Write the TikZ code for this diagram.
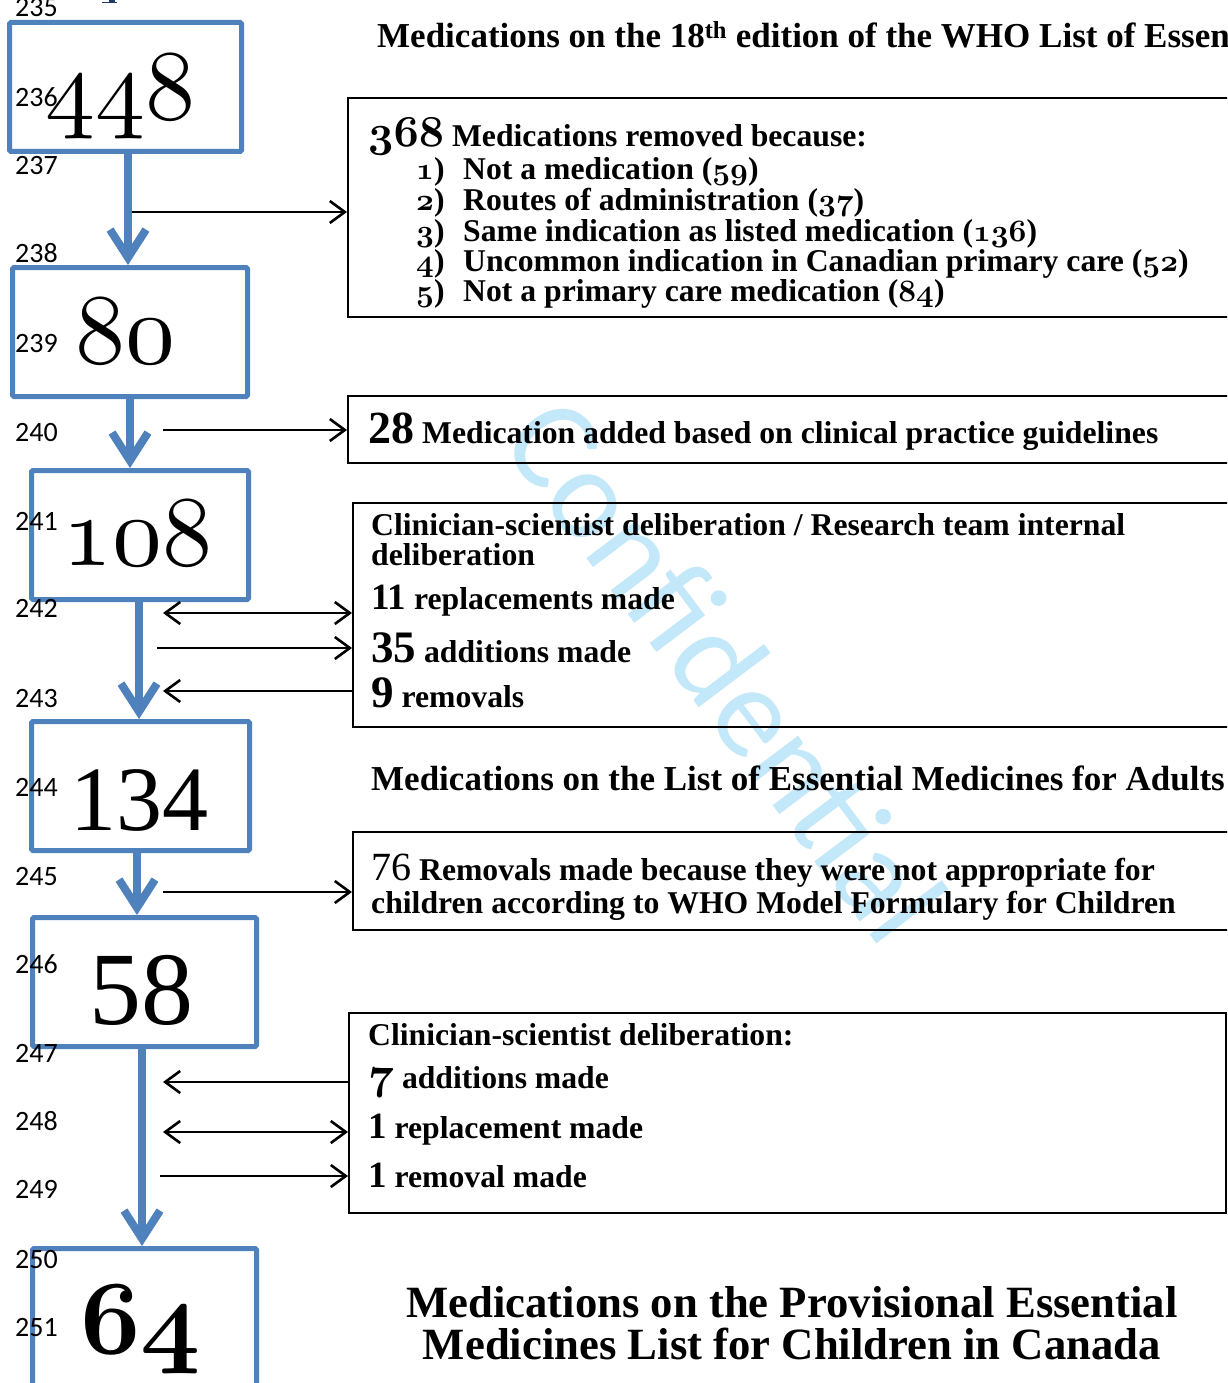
\documentclass[tikz,border=0pt]{standalone}
\usepackage{fontspec}
\setmainfont{Liberation Serif}
\newfontfamily\lnfont{Carlito}
\usetikzlibrary{arrows.meta}
\definecolor{boxblue}{RGB}{79,129,189}
\definecolor{wmcol}{RGB}{195,232,250}
\definecolor{darkblue}{RGB}{31,56,100}
\font\osreg=cmmi10 at 100pt
\font\osbig=cmmib10 at 105pt
\font\osbA=cmmib10 at 44pt
\font\osbB=cmmib10 at 31pt
\font\osbC=cmmib10 at 45pt
\newcommand\bodyfont{\bfseries\fontsize{31.7}{34}\selectfont}
\newcommand\titlefont{\bfseries\fontsize{35}{37}\selectfont}
\newcommand\finalfont{\bfseries\fontsize{44.7}{46}\selectfont}
\tikzset{
  bluebox/.style={draw=boxblue, line width=5pt, rounded corners=1.5pt, inner sep=0pt, anchor=north west},
  blackbox/.style={draw=black, line width=2pt, inner sep=0pt, anchor=north west},
  bluearr/.style={draw=boxblue, line width=8pt, -{Straight Barb[length=28pt,width=36pt]}},
  blkarr/.style={draw=black, line width=2.6pt, -{Straight Barb[length=15pt,width=22pt]}},
  blkdbl/.style={draw=black, line width=2.6pt, {Straight Barb[length=15pt,width=22pt]}-{Straight Barb[length=15pt,width=22pt]}},
  txt/.style={anchor=base west, inner sep=0pt, font=\bodyfont},
  ttl/.style={anchor=base west, inner sep=0pt, font=\titlefont},
  big/.style={anchor=base west, inner sep=0pt},
  lnum/.style={anchor=base west, inner sep=0pt, font=\lnfont\fontsize{28}{28}\selectfont},
}
\begin{document}
\begin{tikzpicture}[x=1pt, y=-1pt]
\useasboundingbox (0,0) rectangle (1227,1383);
\clip (0,0) rectangle (1227,1383);
\fill[white] (0,0) rectangle (1227,1383);
% watermark
\node[rotate=-53, text=wmcol, inner sep=0pt, font=\lnfont\fontsize{130}{130}\selectfont] (wm) at (726,670) {Confidential};
% partial glyph at the top
\fill[darkblue] (109,0) rectangle (115,3);
\fill[darkblue] (102,2) rectangle (117,3.5);
% blue boxes
\node[bluebox, minimum width=232pt, minimum height=129pt] (b1) at (7,20) {};
\node[bluebox, minimum width=235pt, minimum height=129pt] (b2) at (10,265) {};
\node[bluebox, minimum width=217pt, minimum height=129pt] (b3) at (29,468) {};
\node[bluebox, minimum width=218pt, minimum height=129pt] (b4) at (29,719) {};
\node[bluebox, minimum width=224pt, minimum height=129pt] (b5) at (30,915) {};
\node[bluebox, minimum width=224pt, minimum height=200pt] (b6) at (30,1246) {};
% black boxes
\node[blackbox, minimum width=893pt, minimum height=219pt] (r1) at (347,97) {};
\node[blackbox, minimum width=893pt, minimum height=67pt] (r2) at (347,395) {};
\node[blackbox, minimum width=888pt, minimum height=224pt] (r3) at (352,502) {};
\node[blackbox, minimum width=888pt, minimum height=98pt] (r4) at (352,831) {};
\node[blackbox, minimum width=877pt, minimum height=200pt] (r5) at (348,1012) {};
% blue arrows
\coordinate (s1) at (128,0);
\coordinate (s2) at (130,0);
\coordinate (s3) at (139,0);
\coordinate (s4) at (137,0);
\coordinate (s5) at (142,0);
\draw[bluearr] (b1.south -| s1) -- (b2.north -| s1);
\draw[bluearr] (b2.south -| s2) -- (b3.north -| s2);
\draw[bluearr] (b3.south -| s3) -- (b4.north -| s3);
\draw[bluearr] (b4.south -| s4) -- (b5.north -| s4);
\draw[bluearr] (b5.south -| s5) -- (b6.north -| s5);
% black arrows
\coordinate (a1) at (132,212);
\coordinate (a2) at (163,430);
\coordinate (a3) at (163,613);
\coordinate (a4) at (157,648);
\coordinate (a5) at (163,691);
\coordinate (a6) at (163,892);
\coordinate (a7) at (163,1082);
\coordinate (a8) at (163,1132);
\coordinate (a9) at (160,1176);
\draw[blkarr] (a1) -- (a1 -| r1.west);
\draw[blkarr] (a2) -- (a2 -| r2.west);
\draw[blkdbl] (a3) -- (a3 -| r3.west);
\draw[blkarr] (a4) -- (a4 -| r3.west);
\draw[blkarr] (a5 -| r3.west) -- (a5);
\draw[blkarr] (a6) -- (a6 -| r4.west);
\draw[blkarr] (a7 -| r5.west) -- (a7);
\draw[blkdbl] (a8) -- (a8 -| r5.west);
\draw[blkarr] (a9) -- (a9 -| r5.west);
% big numbers
\node[big] (n1) at (45,120) {\osreg 448};
\node[big] (n2) at (75,363) {\osreg 80};
\node[big] (n3) at (62,565) {\osreg 108};
\node[big, font=\fontsize{92}{92}\selectfont] (n4) at (70,830) {134};
\node[big, font=\fontsize{104}{104}\selectfont] (n5) at (89,1024) {58};
\node[big] (n6) at (80,1353) {\osbig 64};
% titles
\node[ttl] (t1) at (377,48) {Medications on the 18\textsuperscript{th} edition of the WHO List of Essential Medicines};
\node[ttl] (t2) at (371,790) {Medications on the List of Essential Medicines for Adults};
% box 1
\node[txt] (r1h) at (368,147) {{\osbA 368} Medications removed because:};
\node[txt] (r1n1) at (416,180) {{\osbB 1})};
\node[txt] (r1n2) at (416,210) {{\osbB 2})};
\node[txt] (r1n3) at (416,241) {{\osbB 3})};
\node[txt] (r1n4) at (416,271) {{\osbB 4})};
\node[txt] (r1n5) at (416,301) {{\osbB 5})};
\node[txt] (r1i1) at (463,180) {Not a medication ({\osbB 59})};
\node[txt] (r1i2) at (463,210) {Routes of administration ({\osbB 37})};
\node[txt] (r1i3) at (463,241) {Same indication as listed medication ({\osbB 136})};
\node[txt] (r1i4) at (463,271) {Uncommon indication in Canadian primary care ({\osbB 52})};
\node[txt] (r1i5) at (463,301) {Not a primary care medication ({\osbB 84})};
% box 2
\node[txt] (r2t) at (368,443) {{\fontsize{46}{46}\selectfont 28} Medication added based on clinical practice guidelines};
% box 3
\node[txt] (r3a) at (371,535) {Clinician-scientist deliberation / Research team internal};
\node[txt] (r3b) at (371,565) {deliberation};
\node[txt] (r3c) at (371,609) {{\fontsize{37}{37}\selectfont 11} replacements made};
\node[txt] (r3d) at (371,662) {{\fontsize{45}{45}\selectfont 35} additions made};
\node[txt] (r3e) at (371,707) {{\fontsize{45}{45}\selectfont 9} removals};
% box 4
\node[txt] (r4a) at (371,880) {{\mdseries\fontsize{40}{40}\selectfont 76} Removals made because they were not appropriate for};
\node[txt] (r4b) at (371,913) {children according to WHO Model Formulary for Children};
% box 5
\node[txt] (r5a) at (368,1045) {Clinician-scientist deliberation:};
\node[txt] (r5b) at (368,1088) {{\osbC 7} additions made};
\node[txt] (r5c) at (368,1138) {{\fontsize{37}{37}\selectfont 1} replacement made};
\node[txt] (r5d) at (368,1187) {{\fontsize{37}{37}\selectfont 1} removal made};
% final title
\node[anchor=base, inner sep=0pt, font=\finalfont] (f1) at (792,1317) {Medications on the Provisional Essential};
\node[anchor=base, inner sep=0pt, font=\finalfont] (f2) at (792,1359) {Medicines List for Children in Canada};
% line numbers
\node[lnum] (l235) at (15,17) {235};
\node[lnum] (l236) at (15,107) {236};
\node[lnum] (l237) at (15,175) {237};
\node[lnum] (l238) at (15,262) {238};
\node[lnum] (l239) at (15,352) {239};
\node[lnum] (l240) at (15,441) {240};
\node[lnum] (l241) at (15,530) {241};
\node[lnum] (l242) at (15,617) {242};
\node[lnum] (l243) at (15,707) {243};
\node[lnum] (l244) at (15,796) {244};
\node[lnum] (l245) at (15,885) {245};
\node[lnum] (l246) at (15,973) {246};
\node[lnum] (l247) at (15,1062) {247};
\node[lnum] (l248) at (15,1130) {248};
\node[lnum] (l249) at (15,1198) {249};
\node[lnum] (l250) at (15,1268) {250};
\node[lnum] (l251) at (15,1336) {251};
\end{tikzpicture}
\end{document}
